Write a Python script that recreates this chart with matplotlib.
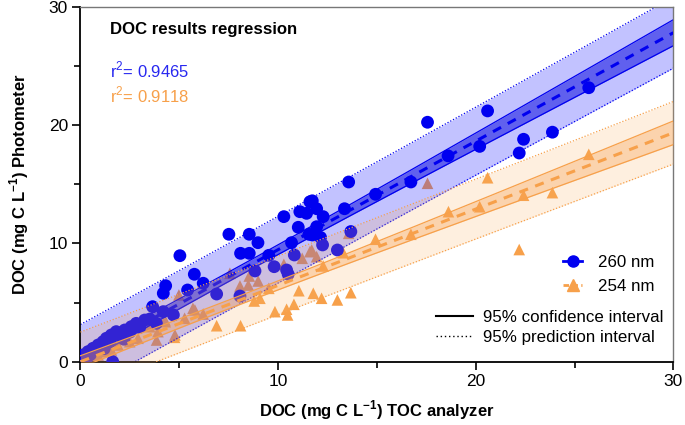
import numpy as np
import matplotlib
matplotlib.use("Agg")
import matplotlib.pyplot as plt
from matplotlib.lines import Line2D
from matplotlib.ticker import MultipleLocator

plt.rcParams['font.family'] = ['Liberation Sans', 'DejaVu Sans']
plt.rcParams['mathtext.fontset'] = 'custom'
plt.rcParams['mathtext.rm'] = 'Liberation Sans'
plt.rcParams['mathtext.bf'] = 'Liberation Sans:bold'

# ---- data ----
x_260 = [25.72, 20.6, 17.56, 23.88, 22.42, 20.2, 18.6, 22.2, 16.72, 14.93,
         13.57, 13.36, 11.73, 11.95, 12.28, 11.73, 12.15, 12.25, 13.0, 13.68,
         11.61, 11.1, 11.44, 10.29, 11.02, 11.95, 7.51, 8.54, 8.98, 8.1,
         8.54, 9.53, 10.68, 11.56, 10.82, 8.83, 9.8, 10.43, 10.51, 5.76,
         6.21, 6.89, 8.07, 5.03, 4.31, 4.19, 5.42, 3.65, 4.19, 4.7,
         3.84, 3.25, 2.82, 2.57, 2.24, 1.81, 1.56, 1.31, 1.14, 0.89,
         0.63, 0.38, 0.13, 0.0, 1.63, 0.5, 0.8, 1.0, 1.5, 2.0,
         2.5, 3.0, 3.5, 2.2, 1.2, 0.3]
y_260 = [23.16, 21.2, 20.24, 19.4, 18.8, 18.2, 17.4, 17.64, 15.19, 14.15,
         15.19, 12.93, 13.6, 12.93, 12.26, 10.71, 10.5, 9.87, 9.44, 11.0,
         13.52, 12.68, 12.54, 12.26, 11.36, 11.41, 10.77, 10.77, 10.06, 9.16,
         9.16, 8.99, 10.06, 10.77, 9.02, 7.67, 8.03, 7.75, 7.39, 7.39,
         6.63, 5.72, 5.55, 8.96, 6.42, 5.78, 6.06, 4.65, 4.23, 3.95,
         3.24, 3.52, 3.24, 2.96, 2.68, 2.54, 2.26, 1.98, 1.69, 1.41,
         1.13, 0.85, 0.57, 0.3, 0.0, 0.6, 1.0, 1.3, 1.7, 2.2,
         2.5, 2.9, 3.6, 1.9, 1.1, 0.2]

x_254 = [25.72, 20.6, 17.56, 22.42, 23.88, 20.2, 18.62, 22.2, 16.72, 14.93,
         13.57, 13.3, 12.28, 11.7, 11.95, 11.78, 12.2, 13.0, 13.68, 10.29,
         11.22, 11.61, 8.54, 8.99, 8.07, 8.49, 7.56, 9.53, 11.05, 8.79,
         9.84, 10.43, 10.48, 10.8, 6.89, 8.1, 5.79, 6.21, 4.98, 5.69,
         5.27, 4.76, 4.29, 3.92, 3.5, 2.91, 2.49, 1.9, 1.56, 1.22,
         0.89, 0.55, 0.21, 0.8, 1.66, 4.78, 9.08, 3.85, 4.27]
y_254 = [17.53, 15.55, 15.08, 14.07, 14.29, 13.1, 12.68, 9.48, 10.77, 10.35,
         10.85, 9.21, 8.09, 9.44, 8.88, 5.78, 5.36, 5.22, 5.83, 8.23,
         8.74, 9.3, 7.24, 6.82, 6.4, 6.48, 7.47, 6.2, 6.0, 5.13,
         4.23, 4.43, 3.95, 4.85, 3.04, 3.04, 4.37, 4.03, 5.64, 4.51,
         3.67, 2.06, 3.38, 2.54, 2.96, 1.98, 1.69, 1.41, 0.99, 0.85,
         0.57, 0.29, 0.0, 0.0, 0.0, 2.26, 5.36, 1.83, 3.52]

# regression results
fit_260 = dict(intercept=0.3, slope=0.917, ts=2.79, ci_mid=0.40, x_mid=8.0, ci_end=1.1)
fit_254 = dict(intercept=0.0, slope=0.645, ts=2.45, ci_mid=0.37, x_mid=8.0, ci_end=1.0)

r2_260 = "0.9465"
r2_254 = "0.9118"
ticks = [0, 10, 20, 30]

BLUE = '#0000f0'
ORANGE = '#f7a04a'


def bands(p, xs):
    yh = p['intercept'] + p['slope'] * xs
    k = (p['ci_end'] ** 2 - p['ci_mid'] ** 2) / (30 - p['x_mid']) ** 2
    ci = np.sqrt(p['ci_mid'] ** 2 + k * (xs - p['x_mid']) ** 2)
    pi = np.sqrt(p['ts'] ** 2 + ci ** 2)
    return yh, ci, pi


xs = np.linspace(0, 30, 200)

fig = plt.figure(figsize=(6.85, 4.25), dpi=100)
ax = fig.add_axes([0.1175, 0.149, 0.8655, 0.835])

yb, cib, pib = bands(fit_260, xs)
yo, cio, pio = bands(fit_254, xs)

# orange points (bottom)
ax.scatter(x_254, y_254, marker='^', s=70, color=ORANGE, edgecolors='none', zorder=1)
# blue bands
ax.fill_between(xs, yb - pib, yb + pib, color='#2020ff', alpha=0.27, lw=0, zorder=2)
ax.fill_between(xs, yb - cib, yb + cib, color='#1010e0', alpha=0.55, lw=0, zorder=2)
for sgn in (1, -1):
    ax.plot(xs, yb + sgn * pib, color=BLUE, lw=0.9, ls=(0, (1, 1.5)), zorder=2.5)
    ax.plot(xs, yb + sgn * cib, color=BLUE, lw=0.9, zorder=2.5)
# blue points
ax.scatter(x_260, y_260, marker='o', s=85, color=BLUE, edgecolors='none', zorder=3)
ax.plot(xs, yb, color=BLUE, lw=2.2, ls=(0, (3, 2.5)), zorder=3.5)
# orange bands
ax.fill_between(xs, yo - pio, yo + pio, color='#fbb060', alpha=0.2, lw=0, zorder=4)
ax.fill_between(xs, yo - cio, yo + cio, color='#f8a050', alpha=0.35, lw=0, zorder=4)
for sgn in (1, -1):
    ax.plot(xs, yo + sgn * pio, color=ORANGE, lw=0.9, ls=(0, (1, 1.5)), zorder=4.5)
    ax.plot(xs, yo + sgn * cio, color=ORANGE, lw=0.9, zorder=4.5)
ax.plot(xs, yo, color=ORANGE, lw=2.2, ls=(0, (3, 2.5)), zorder=5)

ax.set_xlim(0, 30)
ax.set_ylim(0, 30)
ax.set_xticks(ticks)
ax.set_yticks(ticks)
ax.xaxis.set_minor_locator(MultipleLocator(5))
ax.yaxis.set_minor_locator(MultipleLocator(5))
ax.tick_params(which='major', direction='out', length=6, width=1.2, labelsize=12.5, pad=3)
ax.tick_params(which='minor', direction='out', length=4, width=1.2)
for side in ['left', 'bottom']:
    ax.spines[side].set_linewidth(1.3)
for side in ['top', 'right']:
    ax.spines[side].set_color('#777777')
    ax.spines[side].set_linewidth(1.0)

ax.set_xlabel(r'DOC (mg C L$^{\mathbf{-1}}$) TOC analyzer', fontsize=12, fontweight='bold', labelpad=7)
ax.set_ylabel(r'DOC (mg C L$^{\mathbf{-1}}$) Photometer', fontsize=12, fontweight='bold', labelpad=13)

ax.text(0.05, 0.936, 'DOC results regression', transform=ax.transAxes,
        fontsize=12.1, fontweight='bold', va='center', ha='left')
ax.text(0.05, 0.822, 'r$^{2}$= ' + r2_260, transform=ax.transAxes,
        fontsize=12, color='#2828f0', va='center', ha='left')
ax.text(0.05, 0.751, 'r$^{2}$= ' + r2_254, transform=ax.transAxes,
        fontsize=12, color=ORANGE, va='center', ha='left')

h1 = [Line2D([], [], color=BLUE, marker='o', ms=8, lw=2),
      Line2D([], [], color=ORANGE, marker='^', ms=8, lw=2, ls=(0, (2, 1.2)))]
leg1 = ax.legend(h1, ['260 nm', '254 nm'], loc='upper left', frameon=False, fontsize=12.2,
                 handlelength=1.15, handletextpad=0.9, labelspacing=0.55,
                 borderpad=0, borderaxespad=0, bbox_to_anchor=(0.8135, 0.302))
ax.add_artist(leg1)
h2 = [Line2D([], [], color='black', lw=1.5),
      Line2D([], [], color='black', lw=1.0, ls=(0, (1, 2)))]
leg2 = ax.legend(h2, ['95% confidence interval', '95% prediction interval'], loc='upper left',
                 frameon=False, fontsize=12.2, handlelength=2.2, handletextpad=0.6,
                 labelspacing=0.3, borderpad=0, borderaxespad=0,
                 bbox_to_anchor=(0.5994, 0.147))
leg1.set_zorder(10)
leg2.set_zorder(10)

fig.savefig('out.png', dpi=100)
